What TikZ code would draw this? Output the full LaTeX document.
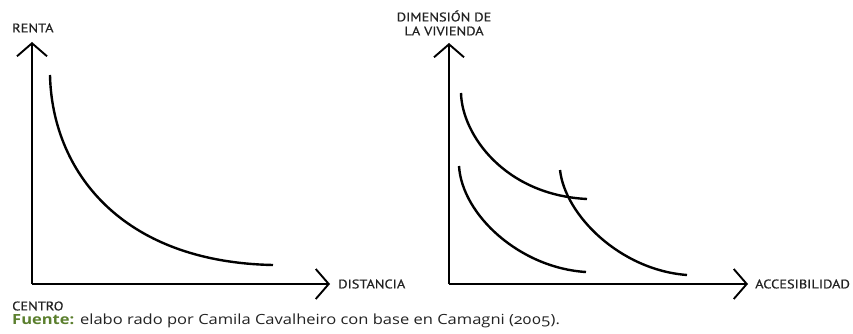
\documentclass[tikz,border=0pt]{standalone}
\usepackage{fontspec}
\setmainfont{Open Sans}[Numbers=OldStyle, FakeStretch=1.18]
\newfontfamily\axisfont[FakeStretch=1.15, FakeBold=0.6]{PT Sans}
\usepackage{xcolor}
\usetikzlibrary{arrows.meta, positioning}

\definecolor{textgray}{HTML}{222222}
\definecolor{fuentegreen}{HTML}{5B7F2E}

\begin{document}
\begin{tikzpicture}[
    x=1pt, y=-1pt,
    axis/.style={line width=1.9pt, -{Straight Barb[length=13pt, width=30pt, line width=1.9pt]}},
    curve/.style={line width=2.4pt},
    axislabel/.style={font=\axisfont\fontsize{12.5}{14}\selectfont, text=textgray, inner sep=0pt, align=center}
]
\useasboundingbox (0,0) rectangle (853,334);

% left graph
\coordinate (origin1) at (32,284);
\coordinate (top1) at (32,42);
\coordinate (end1) at (330,284);
\draw[axis] (origin1) -- (top1);
\draw[axis] (origin1) -- (end1);
\node[axislabel, anchor=west] (renta) at (12,28) {RENTA};
\node[axislabel, anchor=west, right=8pt of end1] (distancia) {DISTANCIA};
\node[axislabel, anchor=west] (centro) at (12,306) {CENTRO};
\draw[curve] (50,75) .. controls (52,170) and (120,262) .. (273,265);

% right graph
\coordinate (origin2) at (449,284);
\coordinate (top2) at (449,43);
\coordinate (end2) at (748,284);
\draw[axis] (origin2) -- (top2);
\draw[axis] (origin2) -- (end2);
\node[axislabel] (dimension) at (444,23) {DIMENSIÓN DE\\LA VIVIENDA};
\node[axislabel, right=7pt of end2] (accesibilidad) {ACCESIBILIDAD};
\draw[curve] (461,93) .. controls (462,135) and (505,195) .. (587,199);
\draw[curve] (459,166) .. controls (462,215) and (520,268) .. (586,272);
\draw[curve] (560,170) .. controls (565,215) and (620,270) .. (687,275);

% source
\node[anchor=west, inner sep=0pt, text=textgray, font=\fontsize{14}{16}\selectfont] (fuente) at (12,321)
    {\textcolor{fuentegreen}{\textbf{Fuente:}} elabo rado por Camila Cavalheiro con base en Camagni (2005).};
\end{tikzpicture}
\end{document}
